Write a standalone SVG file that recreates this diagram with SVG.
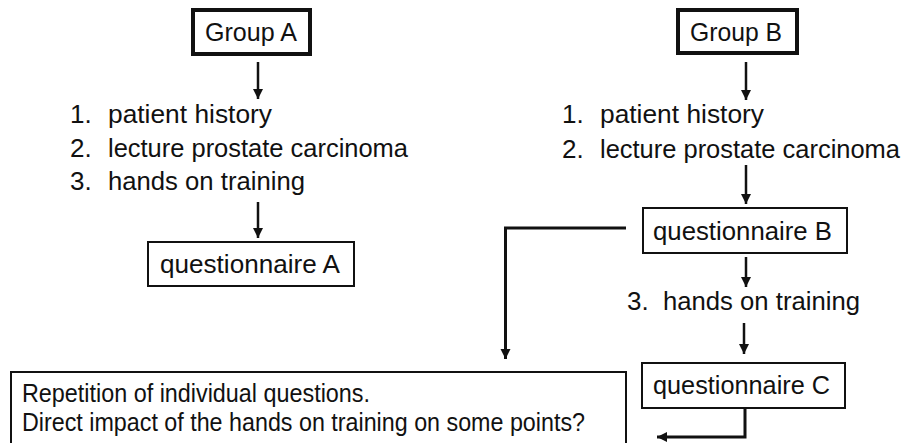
<svg xmlns="http://www.w3.org/2000/svg" width="906" height="443" viewBox="0 0 906 443">
<defs>
<style>
text{font-family:"Liberation Sans",Arial,sans-serif;font-size:26px;fill:#111}
.thick{fill:#fff;stroke:#111;stroke-width:4}
.thin{fill:#fff;stroke:#111;stroke-width:2}
.ln{fill:none;stroke:#111;stroke-width:2.5}
.ln3{fill:none;stroke:#111;stroke-width:3}
</style>
<marker id="ah" markerUnits="userSpaceOnUse" markerWidth="10" markerHeight="11" refX="10" refY="5" orient="auto">
<path d="M0,0 L10,5 L0,10 Z" fill="#111"/>
</marker>
</defs>
<rect width="906" height="443" fill="#fff"/>

<g id="groupA">
<rect class="thick" x="193" y="10" width="117" height="44"/>
<text x="205" y="41" textLength="92" lengthAdjust="spacingAndGlyphs">Group A</text>
</g>
<g id="listA">
<text x="70" y="123">1.</text><text x="108" y="123" textLength="164" lengthAdjust="spacingAndGlyphs">patient history</text>
<text x="70" y="157">2.</text><text x="108" y="157" textLength="300" lengthAdjust="spacingAndGlyphs">lecture prostate carcinoma</text>
<text x="70" y="190">3.</text><text x="108" y="190" textLength="197" lengthAdjust="spacingAndGlyphs">hands on training</text>
</g>
<g id="questionnaireA">
<rect class="thin" x="148" y="242" width="206" height="44"/>
<text x="160" y="273" textLength="180" lengthAdjust="spacingAndGlyphs">questionnaire A</text>
</g>

<g id="groupB">
<rect class="thick" x="678" y="10" width="119" height="43"/>
<text x="690" y="41" textLength="92" lengthAdjust="spacingAndGlyphs">Group B</text>
</g>
<g id="listB">
<text x="562" y="123">1.</text><text x="600" y="123" textLength="164" lengthAdjust="spacingAndGlyphs">patient history</text>
<text x="562" y="158">2.</text><text x="600" y="158" textLength="300" lengthAdjust="spacingAndGlyphs">lecture prostate carcinoma</text>
</g>
<g id="questionnaireB">
<rect class="thin" x="643" y="208" width="204" height="45"/>
<text x="653" y="240" textLength="179" lengthAdjust="spacingAndGlyphs">questionnaire B</text>
</g>
<g id="trainingB">
<text x="627" y="310">3.</text><text x="663" y="310" textLength="197" lengthAdjust="spacingAndGlyphs">hands on training</text>
</g>
<g id="questionnaireC">
<rect class="thin" x="642" y="363" width="203" height="45"/>
<text x="653" y="394" textLength="177" lengthAdjust="spacingAndGlyphs">questionnaire C</text>
</g>
<g id="repetition">
<rect class="thin" x="11" y="372" width="615" height="80"/>
<text x="22" y="402" font-size="25" textLength="348" lengthAdjust="spacingAndGlyphs">Repetition of individual questions.</text>
<text x="22" y="431" font-size="25" textLength="563" lengthAdjust="spacingAndGlyphs">Direct impact of the hands on training on some points?</text>
</g>

<g id="connectors">
<line class="ln" x1="258" y1="62" x2="258" y2="99" marker-end="url(#ah)"/>
<line class="ln" x1="258" y1="202" x2="258" y2="238" stroke-width="1.5" marker-end="url(#ah)"/>
<line class="ln" x1="746" y1="62" x2="746" y2="100" marker-end="url(#ah)"/>
<line class="ln" x1="746" y1="165" x2="746" y2="204" marker-end="url(#ah)"/>
<line class="ln" x1="746" y1="257" x2="746" y2="287" marker-end="url(#ah)"/>
<line class="ln" x1="744" y1="323" x2="744" y2="354" marker-end="url(#ah)"/>
<path class="ln3" d="M626,228 H505.5 V359" marker-end="url(#ah)"/>
<path class="ln3" d="M745,408 V437 H657" marker-end="url(#ah)"/>
</g>
</svg>
